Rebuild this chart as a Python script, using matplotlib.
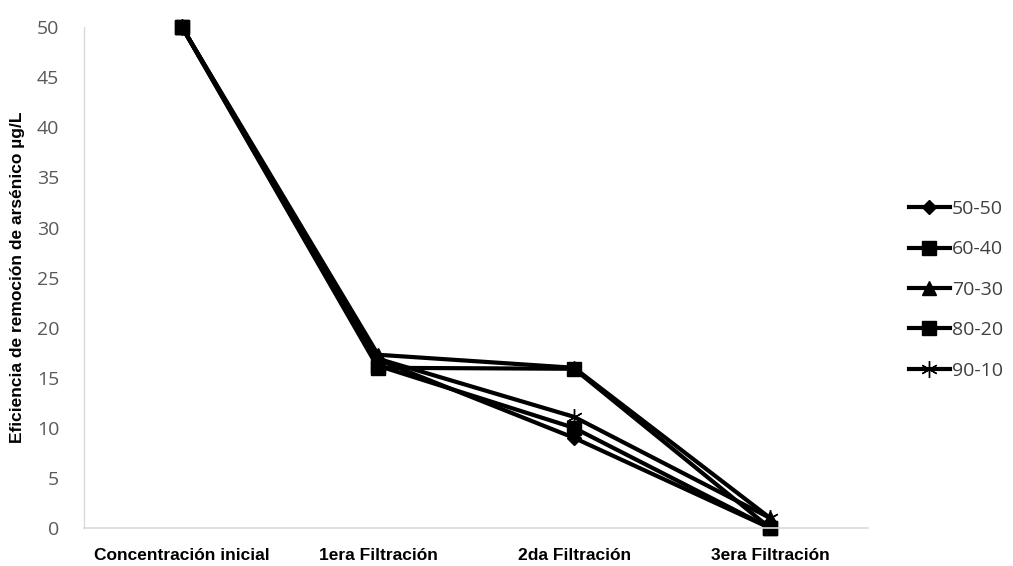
import matplotlib
matplotlib.use("Agg")
import matplotlib.pyplot as plt

etapas = ["Concentración inicial", "1era Filtración", "2da Filtración", "3era Filtración"]
series = ["50-50", "60-40", "70-30", "80-20", "90-10"]
v_50_50 = [50, 16.8, 9.0, 0.0]
v_60_40 = [50, 16.0, 15.9, 0.0]
v_70_30 = [50, 17.3, 16.0, 1.0]
v_80_20 = [50, 16.2, 10.0, 0.0]
v_90_10 = [50, 16.9, 11.1, 1.0]
marcadores = ["D", "s", "^", "s", (6, 2, 0)]
tamanos = [7, 10, 10, 10, 12]

fig = plt.figure(figsize=(10.13, 5.66), dpi=100)
ax = fig.add_axes([0.083, 0.067, 0.774, 0.885])

x = range(len(etapas))
for nombre, vals, m, ms in zip(series, [v_50_50, v_60_40, v_70_30, v_80_20, v_90_10],
                               marcadores, tamanos):
    ax.plot(x, vals, color="black", linewidth=3, marker=m, markersize=ms,
            markeredgewidth=1.0, label=nombre, clip_on=False)

ax.set_xlim(-0.5, 3.5)
ax.set_ylim(0, 50)
ax.set_yticks(range(0, 51, 5))
ax.set_xticks(list(x))
ax.set_xticklabels(etapas, fontsize=12.5, fontweight="bold", family="Liberation Sans")
ax.tick_params(axis="y", length=0, labelsize=14, labelcolor="#595959", pad=18)
ax.tick_params(axis="x", length=0, pad=14)
for t in ax.get_yticklabels():
    t.set_family("Open Sans")
ax.set_ylabel("Eficiencia de remoción de arsénico µg/L", fontsize=12.5,
              fontweight="bold", family="Liberation Sans", labelpad=8)

for s in ["top", "right"]:
    ax.spines[s].set_visible(False)
ax.spines["left"].set_color("#d9d9d9")
ax.spines["bottom"].set_color("#d9d9d9")
ax.spines["left"].set_linewidth(1)
ax.spines["bottom"].set_linewidth(1.2)

leg = fig.legend(*ax.get_legend_handles_labels(), loc="center left",
                 bbox_to_anchor=(0.88, 0.488), frameon=False,
                 prop={"family": "Open Sans", "size": 14},
                 handlelength=2.1, handletextpad=0.1, labelspacing=1.15)
for t in leg.get_texts():
    t.set_color("#404040")

fig.savefig("out.png", dpi=100)
